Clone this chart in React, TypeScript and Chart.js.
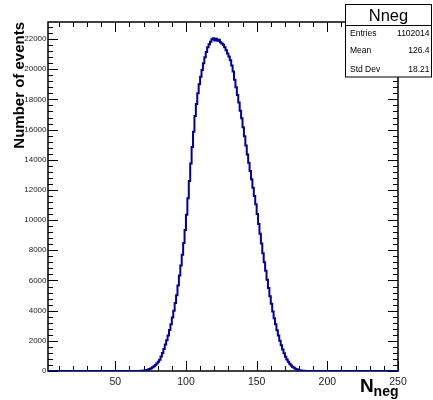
import React, { useEffect, useRef } from "react";
import { Chart, registerables } from "chart.js";

Chart.register(...registerables);

// ---- data ----
const X_MIN = 2.4;
const X_MAX = 250;
const Y_MAX = 23130;
const binStart = 66; // low edge of the first non-empty bin (bin width 1)
const counts = [
  2, 4, 7, 12, 20, 32, 48, 70, 100, 140, // 66-75
  190, 250, 320, 400, 490, 610, 750, 960, 1200, 1460, // 76-85
  1750, 2040, 2350, 2710, 3100, 3540, 4000, 4500, 5020, 5660, // 86-95
  6330, 7000, 7700, 8480, 9350, 10350, 11450, 12600, 13750, 14850, // 96-105
  15850, 16900, 17700, 18400, 19000, 19500, 19950, 20400, 20800, 21150, // 106-115
  21450, 21650, 21820, 21980, 22050, 21900, 22020, 21880, 21950, 21780, // 116-125
  21700, 21620, 21450, 21250, 21050, 20850, 20600, 20250, 19850, 19300, // 126-135
  18800, 18300, 17800, 17250, 16750, 16150, 15550, 14950, 14350, 13800, // 136-145
  13250, 12700, 12150, 11600, 11050, 10400, 9750, 9100, 8450, 7800, // 146-155
  7200, 6650, 6050, 5500, 4950, 4450, 3950, 3500, 3100, 2700, // 156-165
  2350, 2000, 1700, 1420, 1170, 950, 770, 610, 480, 370, // 166-175
  280, 210, 155, 110, 80, 55, 35, 22, 13, 7, // 176-185
  4, 2, 1, // 186-188
];
const xTickLabels = [50, 100, 150, 200, 250];
const yTickLabels = [0, 2000, 4000, 6000, 8000, 10000, 12000, 14000, 16000, 18000, 20000, 22000];
const statsTitle = "Nneg";
const statsRows: [string, string][] = [
  ["Entries", "1102014"],
  ["Mean", "126.4"],
  ["Std Dev", "18.21"],
];
const yTitle = "Number of events";
const xTitleMain = "N";
const xTitleSub = "neg";

const FONT = "'Liberation Sans', Arial, Helvetica, sans-serif";

const rootStyle = {
  id: "rootStyle",
  beforeDatasetsDraw(chart: any) {
    const { ctx, chartArea: a, scales } = chart;
    const xs = scales.x;
    const ys = scales.y;
    ctx.save();
    // frame
    ctx.strokeStyle = "#000";
    ctx.lineWidth = 1.5;
    ctx.strokeRect(a.left, a.top, a.right - a.left, a.bottom - a.top);
    // x ticks (bottom & top)
    ctx.lineWidth = 1;
    for (let v = 10; v <= 250; v += 10) {
      const px = Math.round(xs.getPixelForValue(v)) + 0.5;
      const len = v % 50 === 0 ? 10 : 5;
      ctx.beginPath();
      ctx.moveTo(px, a.bottom);
      ctx.lineTo(px, a.bottom - len);
      ctx.moveTo(px, a.top);
      ctx.lineTo(px, a.top + len);
      ctx.stroke();
    }
    // y ticks (left & right)
    for (let v = 0; v <= 23000; v += 400) {
      const py = Math.round(ys.getPixelForValue(v)) + 0.5;
      if (py < a.top) continue;
      const len = v % 2000 === 0 ? 10 : 5;
      ctx.beginPath();
      ctx.moveTo(a.left, py);
      ctx.lineTo(a.left + len, py);
      ctx.moveTo(a.right, py);
      ctx.lineTo(a.right - len, py);
      ctx.stroke();
    }
    ctx.restore();
  },
  afterDraw(chart: any) {
    const { ctx, chartArea: a, scales } = chart;
    const xs = scales.x;
    const ys = scales.y;
    ctx.save();
    ctx.fillStyle = "#222";
    // x tick labels
    ctx.font = `10.5px ${FONT}`;
    ctx.textAlign = "center";
    ctx.textBaseline = "alphabetic";
    for (const v of xTickLabels) {
      ctx.fillText(String(v), xs.getPixelForValue(v), a.bottom + 13.5);
    }
    // y tick labels
    ctx.font = `8px ${FONT}`;
    ctx.textAlign = "right";
    ctx.textBaseline = "middle";
    for (const v of yTickLabels) {
      ctx.fillText(String(v), a.left - 1.5, ys.getPixelForValue(v));
    }
    // y title
    ctx.fillStyle = "#000";
    ctx.save();
    ctx.translate(23.5, a.top);
    ctx.rotate(-Math.PI / 2);
    ctx.font = `bold 15px ${FONT}`;
    ctx.textAlign = "right";
    ctx.textBaseline = "alphabetic";
    ctx.fillText(yTitle, 0, 0);
    ctx.restore();
    // x title N_neg
    ctx.textAlign = "left";
    ctx.textBaseline = "alphabetic";
    ctx.font = `bold 14px ${FONT}`;
    const subW = ctx.measureText(xTitleSub).width;
    ctx.font = `bold 19px ${FONT}`;
    const mainW = ctx.measureText(xTitleMain).width;
    const endX = a.right + 0.5;
    const startX = endX - subW - mainW;
    ctx.fillText(xTitleMain, startX, 391.7);
    ctx.font = `bold 14px ${FONT}`;
    ctx.fillText(xTitleSub, startX + mainW, 395.5);
    // stats box
    const bx = 345.5, by = 4.5, bw = 86, bh = 72.5;
    ctx.fillStyle = "#fff";
    ctx.fillRect(bx, by, bw, bh);
    ctx.strokeStyle = "#000";
    ctx.lineWidth = 1;
    ctx.strokeRect(bx, by, bw, bh);
    ctx.beginPath();
    ctx.moveTo(bx, 25.5);
    ctx.lineTo(bx + bw, 25.5);
    ctx.stroke();
    ctx.fillStyle = "#000";
    ctx.font = `16.5px ${FONT}`;
    ctx.textAlign = "center";
    ctx.textBaseline = "alphabetic";
    ctx.fillText(statsTitle, bx + bw / 2, 20.5);
    ctx.font = `8.5px ${FONT}`;
    ctx.textBaseline = "middle";
    const rowY = [33.5, 51, 69.3];
    statsRows.forEach(([k, v], i) => {
      ctx.textAlign = "left";
      ctx.fillText(k, 350, rowY[i]);
      ctx.textAlign = "right";
      ctx.fillText(v, 429.5, rowY[i]);
    });
    ctx.restore();
  },
};

export default function App() {
  const ref = useRef<HTMLCanvasElement | null>(null);
  useEffect(() => {
    if (!ref.current) return;
    const pts: { x: number; y: number }[] = [{ x: X_MIN, y: 0 }];
    counts.forEach((c, i) => pts.push({ x: binStart + i, y: c }));
    pts.push({ x: binStart + counts.length, y: 0 });
    pts.push({ x: X_MAX, y: 0 });
    const chart = new Chart(ref.current, {
      type: "line",
      data: {
        datasets: [
          {
            data: pts,
            stepped: "after",
            borderColor: "#000099",
            borderWidth: 2,
            pointRadius: 0,
            fill: false,
            tension: 0,
          } as any,
        ],
      },
      options: {
        responsive: false,
        animation: false,
        devicePixelRatio: 1,
        layout: { padding: { left: 48, top: 22, right: 35, bottom: 29 } },
        plugins: { legend: { display: false }, tooltip: { enabled: false }, title: { display: false } },
        scales: {
          x: { type: "linear", min: X_MIN, max: X_MAX, display: false },
          y: { type: "linear", min: 0, max: Y_MAX, display: false },
        },
        events: [],
      },
      plugins: [rootStyle],
    });
    return () => chart.destroy();
  }, []);
  return (
    <div style={{ position: "absolute", left: 0, top: 0, width: 433, height: 400, background: "#fff" }}>
      <canvas ref={ref} width={433} height={400} style={{ width: 433, height: 400, display: "block" }} />
    </div>
  );
}
